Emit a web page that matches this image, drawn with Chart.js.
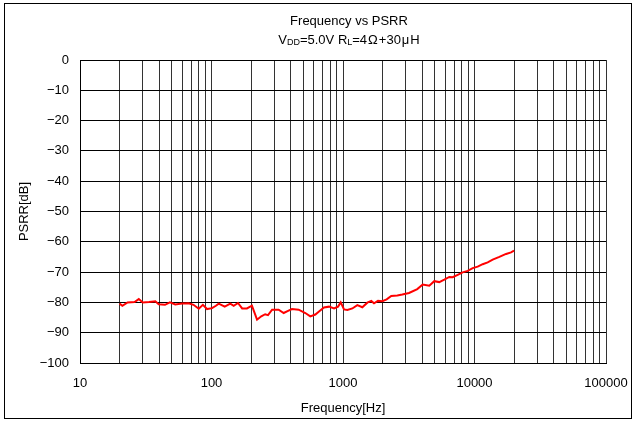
<!doctype html>
<html lang="ja">

<head>
    <meta charset="utf-8">
    <title>Frequency vs PSRR</title>
    <script type="text/javascript" src="https://cdn.jsdelivr.net/npm/chart.js"></script>
    <style>
        html, body { margin: 0; padding: 0; background: #fff; }
        canvas { display: block; }
    </style>
</head>

<body>
    <canvas id="psrrChart" width="636" height="421"></canvas>

    <script>
        // measured PSRR, 20 Hz .. 20 kHz
        const freqHz = [20, 21, 23, 26, 28, 30, 33.5, 37.4, 39.7, 44.3, 48.3, 53,
            59.7, 67, 73, 80, 86, 92.5, 101, 108, 113.5, 126, 139, 147.5,
            159, 171, 186, 203, 222, 239, 256, 269, 289, 324, 354, 382,
            409, 460, 517, 564, 616, 657, 717, 783, 855, 917, 961, 1018,
            1079, 1178, 1285, 1403, 1531, 1641, 1721, 1846, 1990, 2148, 2328, 2588,
            2825, 3177, 3673, 4036, 4530, 4943, 5397, 5893, 6431, 6823, 7447, 8130,
            8876, 9690, 10570, 11540, 12600, 13750, 15450, 17380, 18970, 20000];
        const psrrDb = [-80.4, -81.1, -80.0, -79.9, -78.9, -80.0, -79.9, -79.6, -80.6, -80.8, -80.0, -80.7,
            -80.4, -80.3, -80.8, -82.1, -80.8, -82.2, -81.9, -81.1, -80.4, -81.4, -80.4, -81.1,
            -80.2, -82.0, -82.0, -81.1, -85.7, -84.6, -83.9, -84.2, -82.4, -82.4, -83.5, -82.8,
            -82.2, -82.4, -83.5, -84.6, -84.0, -83.0, -81.7, -81.4, -82.0, -81.4, -80.0, -82.3,
            -82.5, -82.0, -80.9, -81.6, -80.1, -79.5, -80.3, -79.5, -79.6, -79.0, -77.9, -77.7,
            -77.4, -76.9, -75.6, -74.1, -74.5, -73.0, -73.3, -72.5, -71.6, -71.7, -70.9, -70.1,
            -69.6, -68.7, -68.2, -67.4, -66.8, -65.9, -65.0, -64.0, -63.5, -62.9];

        // gridlines at 1..9 x 10^n, labels only on the decades
        const decades = [10, 100, 1000, 10000, 100000];
        const xTickValues = [];
        for (let d = 10; d < 100000; d *= 10) {
            for (let m = 1; m < 10; m++) xTickValues.push(d * m);
        }
        xTickValues.push(100000);

        const FONT = 'Liberation Sans, Arial, sans-serif';

        // title with subscripts + white background and outer frame
        const frame = {
            id: 'frame',
            beforeDraw(chart) {
                const ctx = chart.ctx;
                ctx.save();
                ctx.fillStyle = '#fff';
                ctx.fillRect(0, 0, chart.width, chart.height);
                ctx.restore();
            },
            afterDraw(chart) {
                const ctx = chart.ctx;
                ctx.save();
                ctx.strokeStyle = '#000';
                ctx.lineWidth = 1;
                ctx.strokeRect(4.5, 3.5, 627, 415);

                ctx.fillStyle = '#000';
                ctx.textBaseline = 'middle';
                ctx.textAlign = 'center';
                ctx.font = '13px ' + FONT;
                ctx.fillText('Frequency vs PSRR', 349, 21);

                const parts = [
                    { t: 'V' }, { t: 'DD', sub: true }, { t: '=5.0V R' }, { t: 'L', sub: true },
                    { t: '=4' }, { t: 'Ω', gap: 1 }, { t: '+30' }, { t: 'μ', gap: 1 }, { t: 'H' }
                ];
                const fontOf = p => (p.sub ? '9px ' : '13px ') + FONT;
                let total = 0;
                parts.forEach(p => {
                    ctx.font = fontOf(p);
                    p.w = ctx.measureText(p.t).width + 2 * (p.gap || 0);
                    total += p.w;
                });
                let x = 349 - total / 2;
                ctx.textAlign = 'left';
                parts.forEach(p => {
                    ctx.font = fontOf(p);
                    ctx.fillText(p.t, x + (p.gap || 0), p.sub ? 42.5 : 40);
                    x += p.w;
                });
                ctx.restore();
            }
        };

        const data = {
            datasets: [{
                label: 'PSRR',
                data: freqHz.map((f, i) => ({ x: f, y: psrrDb[i] })),
                borderColor: '#ff0000',
                borderWidth: 2,
                pointRadius: 0,
                tension: 0,
                fill: false
            }]
        };

        const config = {
            type: 'line',
            data,
            options: {
                responsive: false,
                animation: false,
                layout: { padding: { top: 60, right: 30, left: 0, bottom: 0 } },
                plugins: {
                    legend: { display: false },
                    tooltip: { enabled: false }
                },
                scales: {
                    x: {
                        type: 'logarithmic',
                        min: 10,
                        max: 100000,
                        afterBuildTicks: s => { s.ticks = xTickValues.map(v => ({ value: v })); },
                        afterFit: s => {
                            s.height = 58;
                            s.paddingLeft = 0;
                            s.paddingRight = 0;
                        },
                        grid: { color: '#333', lineWidth: 1, drawTicks: false },
                        border: { color: '#000' },
                        ticks: {
                            autoSkip: false,
                            maxRotation: 0,
                            padding: 13,
                            color: '#000',
                            font: { family: FONT, size: 13 },
                            callback: v => decades.includes(v) ? String(v) : ''
                        },
                        title: {
                            display: true,
                            text: 'Frequency[Hz]',
                            color: '#000',
                            font: { family: FONT, size: 13 },
                            padding: { top: 0, bottom: 5 }
                        }
                    },
                    y: {
                        min: -100,
                        max: 0,
                        afterFit: s => { s.width = 80; },
                        grid: { color: '#000', lineWidth: 1, drawTicks: false },
                        border: { color: '#000' },
                        ticks: {
                            stepSize: 10,
                            padding: 11,
                            color: '#000',
                            font: { family: FONT, size: 13 },
                            callback: v => v < 0 ? '\u2212' + Math.abs(v) : String(v)
                        },
                        title: {
                            display: true,
                            text: 'PSRR[dB]',
                            color: '#000',
                            font: { family: FONT, size: 13 },
                            padding: { top: 17, bottom: 0 }
                        }
                    }
                }
            },
            plugins: [frame]
        };

        const psrrChart = new Chart(document.getElementById('psrrChart'), config);
    </script>

</body>

</html>
